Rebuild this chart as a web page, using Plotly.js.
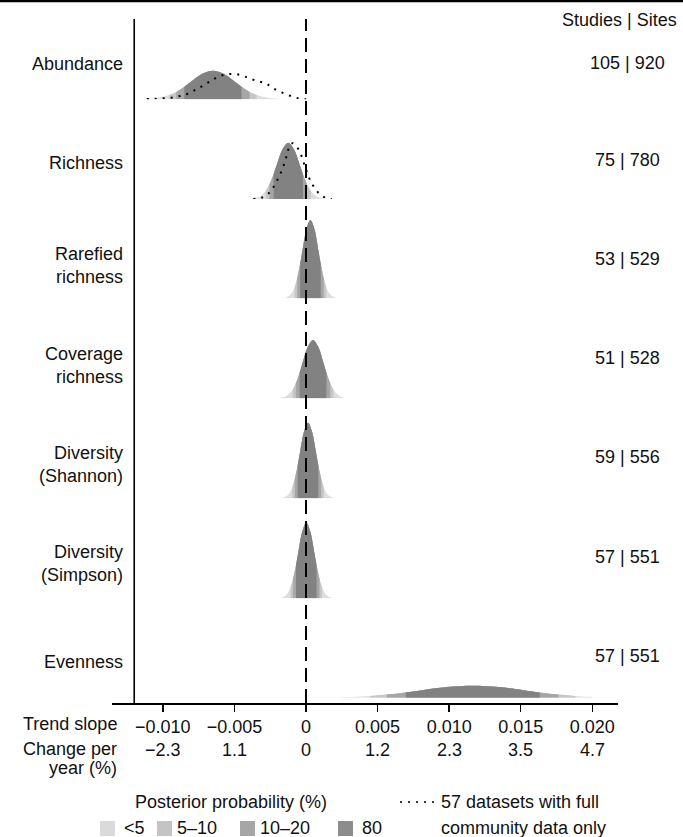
<!DOCTYPE html>
<html><head><meta charset="utf-8">
<script src="https://cdn.plot.ly/plotly-3.0.1.min.js"></script>
<style>html,body{margin:0;padding:0;background:#fff}</style>
</head><body><div id="chart" style="width:683px;height:837px"></div>
<script>
// ---------- data ----------
const metrics = ['Abundance','Richness','Rarefied<br>richness','Coverage<br>richness','Diversity<br>(Shannon)','Diversity<br>(Simpson)','Evenness'];
const studiesSites = ['105 | 920','75 | 780','53 | 529','51 | 528','59 | 556','57 | 551','57 | 551'];
const tickVals = [-0.010,-0.005,0,0.005,0.010,0.015,0.020];
const tickText = ['\u22120.010','\u22120.005','0','0.005','0.010','0.015','0.020'];
const changeText = ['\u22122.3','1.1','0','1.2','2.3','3.5','4.7'];
const legendLabels = ['<5','5\u201310','10\u201320','80'];

// posterior densities (slope, relative density)
const abundanceX = [-0.011953,-0.011174,-0.010395,-0.009554,-0.009063,-0.008497,-0.008058,-0.007279,-0.00650,-0.005721,-0.004942,-0.004503,-0.003937,-0.003446,-0.002605,-0.001826,-0.001047];
const abundanceY = [0.06,0.32,1.26,4.19,7.39,12.58,17.35,25.24,28.6,25.24,17.35,12.58,7.39,4.19,1.26,0.32,0.06];
const abundanceBands = [-0.009554,-0.009063,-0.008497,-0.004503,-0.003937,-0.003446];

const richnessX = [-0.00404,-0.00364,-0.00324,-0.002808,-0.002556,-0.002265,-0.00204,-0.00164,-0.00124,-0.00084,-0.00044,-0.000215,0.000076,0.000328,0.00076,0.00116,0.00156];
const richnessY = [0.12,0.62,2.47,8.25,14.55,24.77,34.15,49.68,56.3,49.68,34.15,24.77,14.55,8.25,2.47,0.62,0.12];
const richnessBands = [-0.002808,-0.002556,-0.002265,-0.000215,0.000076,0.000328];

const rarefiedX = [-0.00165,-0.00137,-0.00109,-0.000788,-0.000611,-0.000408,-0.00025,0.00003,0.00031,0.00059,0.00087,0.001028,0.001231,0.001408,0.00171,0.00199,0.00227];
const rarefiedY = [0.17,0.87,3.44,11.47,20.24,34.44,47.49,69.10,78.3,69.10,47.49,34.44,20.24,11.47,3.44,0.87,0.17];
const rarefiedBands = [-0.000788,-0.000611,-0.000408,0.001028,0.001231,0.001408];

const coverageX = [-0.002065,-0.0017,-0.001335,-0.000941,-0.000711,-0.000446,-0.00024,0.000125,0.00049,0.000855,0.00122,0.001426,0.001691,0.001921,0.002315,0.00268,0.003045];
const coverageY = [0.13,0.65,2.56,8.54,15.07,25.65,35.36,51.45,58.3,51.45,35.36,25.65,15.07,8.54,2.56,0.65,0.13];
const coverageBands = [-0.000941,-0.000711,-0.000446,0.001426,0.001691,0.001921];

const shannonX = [-0.00182,-0.00154,-0.00126,-0.000958,-0.000781,-0.000578,-0.00042,-0.00014,0.00014,0.00042,0.0007,0.000858,0.001061,0.001238,0.00154,0.00182,0.0021];
const shannonY = [0.17,0.84,3.32,11.08,19.54,33.26,45.85,66.72,75.6,66.72,45.85,33.26,19.54,11.08,3.32,0.84,0.17];
const shannonBands = [-0.000958,-0.000781,-0.000578,0.000858,0.001061,0.001238];

const simpsonX = [-0.00194,-0.00166,-0.00138,-0.001078,-0.000901,-0.000698,-0.00054,-0.00026,0.00002,0.0003,0.00058,0.000738,0.000941,0.001118,0.00142,0.0017,0.00198];
const simpsonY = [0.17,0.84,3.32,11.08,19.54,33.26,45.85,66.72,75.6,66.72,45.85,33.26,19.54,11.08,3.32,0.84,0.17];
const simpsonBands = [-0.001078,-0.000901,-0.000698,0.000738,0.000941,0.001118];

const evennessX = [0.0005,0.002525,0.004496,0.005646,0.006972,0.008,0.009825,0.01165,0.013475,0.0153,0.016328,0.017654,0.018804,0.020];
const evennessY = [0.11,0.53,1.76,3.10,5.28,7.28,10.59,12,10.59,7.28,5.28,3.10,1.76,0.88];
const evennessBands = [0.004496,0.005646,0.006972,0.016328,0.017654,0.018804];

// 57 datasets with full community data only (dotted)
const abundanceFullX = [-0.011128,-0.010548,-0.009969,-0.009382,-0.008802,-0.008334,-0.007873,-0.007405,-0.006937,-0.006476,-0.006008,-0.00554,-0.00496,-0.00438,-0.003793,-0.003213,-0.002745,-0.002284,-0.001698,-0.001118,-0.000538,-0.00007,0.000398];
const abundanceFullY = [0.3,0.6,1,1.6,3.3,5,8.3,12,16,20,23.3,25,25.3,23.3,20,17.6,15.3,11,7,3.6,1,0,0];
const richnessFullX = [-0.003681,-0.003095,-0.002564,-0.002284,-0.002005,-0.001698,-0.001467,-0.001278,-0.001118,-0.000929,-0.000699,-0.000468,-0.000258,-0.00007,0.000161,0.000398,0.000699,0.001027,0.001397,0.001795];
const richnessFullY = [0,1.3,6.3,11.7,19,28.3,37.3,47.3,54,55.7,53,48.3,40.7,32.3,23,15.7,9,4,1.3,0];

// ---------- styling ----------
const W = 683, H = 837;
const FONT = 'Liberation Sans, Arial, Helvetica, sans-serif';
const TXT = '#111';
const bandColors = ['#dedede','#c6c6c6','#a6a6a6','#828282'];
const legendColors = ['#dadada','#c4c4c4','#a6a6a6','#8c8c8c'];
const baselinesPx = [99.3, 199, 298.3, 398.3, 498.3, 598.3, 697.7];
const labelYPx = [64, 163, 266, 365, 464, 563, 662];
const numYPx = [63, 160, 259, 358, 457, 557, 656];
const PX = p => p / W;
const PY = p => 1 - p / H;
const ROWH = 90;

const rows = [
  {x: abundanceX, y: abundanceY, b: abundanceBands, dx: abundanceFullX, dy: abundanceFullY},
  {x: richnessX, y: richnessY, b: richnessBands, dx: richnessFullX, dy: richnessFullY},
  {x: rarefiedX, y: rarefiedY, b: rarefiedBands},
  {x: coverageX, y: coverageY, b: coverageBands},
  {x: shannonX, y: shannonY, b: shannonBands},
  {x: simpsonX, y: simpsonY, b: simpsonBands},
  {x: evennessX, y: evennessY, b: evennessBands}
];

const traces = [];
const layout = {
  width: W, height: H,
  margin: {l: 0, r: 0, t: 0, b: 0},
  paper_bgcolor: '#fff', plot_bgcolor: 'rgba(0,0,0,0)',
  showlegend: false,
  font: {family: FONT, size: 18, color: TXT},
  xaxis: {
    domain: [112 / W, 618 / W],
    range: [-0.013552, 0.021795],
    anchor: 'free', position: PY(703),
    tickmode: 'array', tickvals: tickVals, ticktext: tickText,
    ticks: 'outside', ticklen: 7, tickwidth: 1.5, tickcolor: '#000',
    showline: true, linewidth: 1.5, linecolor: '#000',
    showgrid: false, zeroline: false,
    tickfont: {family: FONT, size: 18, color: TXT},
    fixedrange: true
  },
  shapes: [], annotations: []
};

function sub(r, lo, hi) {
  const xs = [], ys = [];
  r.x.forEach((v, i) => { if (v >= lo - 1e-9 && v <= hi + 1e-9) { xs.push(v); ys.push(r.y[i]); } });
  return {xs, ys};
}

rows.forEach((r, i) => {
  const yName = i === 0 ? 'y' : 'y' + (i + 1);
  const axKey = i === 0 ? 'yaxis' : 'yaxis' + (i + 1);
  const bottom = PY(baselinesPx[i]);
  layout[axKey] = {domain: [bottom, bottom + ROWH / H], range: [0, ROWH], visible: false, fixedrange: true, anchor: 'x'};
  const layers = [
    {xs: r.x, ys: r.y},
    sub(r, r.b[0], r.b[5]),
    sub(r, r.b[1], r.b[4]),
    sub(r, r.b[2], r.b[3])
  ];
  layers.forEach((L, k) => {
    traces.push({
      x: L.xs, y: L.ys, xaxis: 'x', yaxis: yName,
      type: 'scatter', mode: 'lines', fill: 'tozeroy',
      fillcolor: bandColors[k],
      line: {width: 0, shape: 'spline', color: bandColors[k]},
      hoverinfo: 'skip'
    });
  });
  if (r.dx) {
    traces.push({
      x: r.dx, y: r.dy, xaxis: 'x', yaxis: yName,
      type: 'scatter', mode: 'lines',
      line: {width: 2, dash: '2px,6px', shape: 'spline', color: '#000'},
      hoverinfo: 'skip'
    });
  }
  layout.annotations.push({
    xref: 'paper', yref: 'paper', x: PX(125), y: PY(labelYPx[i]),
    xanchor: 'right', yanchor: 'middle', align: 'right', showarrow: false,
    text: metrics[i], font: {family: FONT, size: 18, color: TXT}
  });
  layout.annotations.push({
    xref: 'paper', yref: 'paper', x: PX(627), y: PY(numYPx[i]),
    xanchor: 'center', yanchor: 'middle', showarrow: false,
    text: studiesSites[i], font: {family: FONT, size: 18, color: TXT}
  });
});

// reference lines
layout.shapes.push({type: 'rect', xref: 'paper', yref: 'paper', x0: 0, x1: 1, y0: PY(2.2), y1: 1, fillcolor: '#000', line: {width: 0}});
layout.shapes.push({type: 'line', xref: 'x', yref: 'paper', x0: -0.012, x1: -0.012, y0: PY(703), y1: PY(19), line: {color: '#000', width: 1.6}});
layout.shapes.push({type: 'line', xref: 'x', yref: 'paper', x0: 0, x1: 0, y0: PY(703), y1: PY(19), line: {color: '#000', width: 2, dash: '14px,7px'}});

// headers / axis labels
const ann = (x, y, text, xanchor, extra) => layout.annotations.push(Object.assign({
  xref: 'paper', yref: 'paper', x: PX(x), y: PY(y), text, xanchor, yanchor: 'middle',
  showarrow: false, font: {family: FONT, size: 18, color: TXT}
}, extra || {}));
ann(679, 20, 'Studies | Sites', 'right');
ann(119, 724, 'Trend slope', 'right');
ann(119, 749, 'Change per', 'right');
ann(119, 768, 'year (%)', 'right');
tickVals.forEach((v, i) => layout.annotations.push({
  xref: 'x', yref: 'paper', x: v, y: PY(750), text: changeText[i],
  xanchor: 'center', yanchor: 'middle', showarrow: false,
  font: {family: FONT, size: 18, color: TXT}
}));

// legend
ann(231, 802, 'Posterior probability (%)', 'center');
const swX = [100, 157, 240, 338];
const swTextX = [122, 175, 258, 360];
legendLabels.forEach((t, i) => {
  layout.shapes.push({type: 'rect', xref: 'paper', yref: 'paper', x0: PX(swX[i]), x1: PX(swX[i] + 15), y0: PY(836), y1: PY(821), fillcolor: legendColors[i], line: {width: 0}});
  ann(swTextX[i], 828, t, 'left');
});
layout.shapes.push({type: 'line', xref: 'paper', yref: 'paper', x0: PX(400), x1: PX(434), y0: PY(802), y1: PY(802), line: {color: '#000', width: 1.6, dash: '2px,6px'}});
ann(439, 802, '57 datasets with full', 'left');
ann(439, 828, 'community data only', 'left');

Plotly.newPlot('chart', traces, layout, {displayModeBar: false, staticPlot: true});
</script></body></html>
